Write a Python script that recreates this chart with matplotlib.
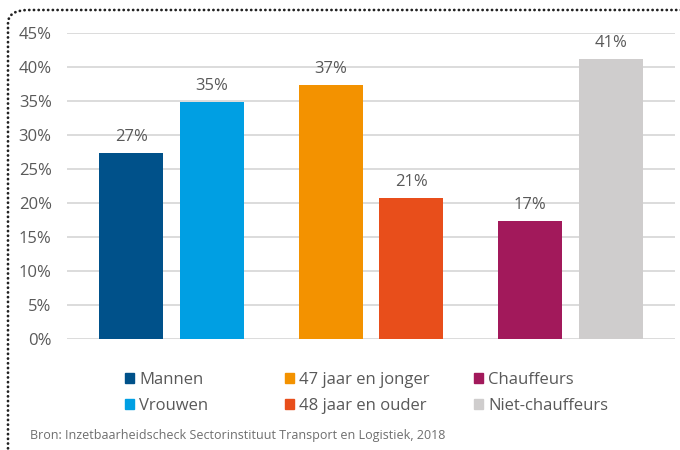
import matplotlib
matplotlib.use("Agg")
import matplotlib.pyplot as plt
from matplotlib.patches import FancyBboxPatch, Patch
import numpy as np

plt.rcParams['font.family'] = ['Open Sans', 'DejaVu Sans']

groups = [0, 1, 2]
left_labels = ['Mannen', '47 jaar en jonger', 'Chauffeurs']
right_labels = ['Vrouwen', '48 jaar en ouder', 'Niet-chauffeurs']
left_values = [27.3, 37.3, 17.3]
right_values = [34.8, 20.7, 41.2]
left_colors = ['#00518A', '#F39200', '#A2195B']
right_colors = ['#009FE3', '#E84E1B', '#CFCDCD']
yticks = [0, 5, 10, 15, 20, 25, 30, 35, 40, 45]
source = 'Bron: Inzetbaarheidscheck Sectorinstituut Transport en Logistiek, 2018'

text_col = '#595959'

fig = plt.figure(figsize=(6.8, 4.5), dpi=100)
ax = fig.add_axes([67 / 680, 1 - 339 / 450, (675 - 67) / 680, (339 - 33) / 450])

x = np.array(groups)
w = 0.321
off = 0.202
b1 = ax.bar(x - off, left_values, w, color=left_colors, zorder=3)
b2 = ax.bar(x + off, right_values, w, color=right_colors, zorder=3)

for bars, vals in ((b1, left_values), (b2, right_values)):
    for bar, v in zip(bars, vals):
        ax.text(bar.get_x() + bar.get_width() / 2, v + 1.2, f"{round(v)}%",
                ha='center', va='bottom', fontsize=12, color=text_col)

ax.set_xlim(-0.525, 2.524)
ax.set_ylim(0, 45)
ax.set_yticks(yticks)
ax.set_yticklabels([f"{t}%" for t in yticks], fontsize=12, color=text_col)
ax.set_xticks([])
ax.tick_params(axis='y', length=0, pad=11)
ax.grid(axis='y', color='#D9D9D9', linewidth=1.3, zorder=0)
for s in ax.spines.values():
    s.set_visible(False)

# legend: one small legend per pair, placed as three columns
legend_x = [125, 285, 474]
for i in range(3):
    leg = fig.legend([Patch(color=left_colors[i]), Patch(color=right_colors[i])],
                     [left_labels[i], right_labels[i]],
                     frameon=False, loc='upper left', borderpad=0, borderaxespad=0,
                     bbox_to_anchor=(legend_x[i] / 680, 1 - 372 / 450), fontsize=12,
                     labelcolor=text_col, handlelength=0.55, handleheight=0.55,
                     handletextpad=0.3, labelspacing=0.6)

fig.text(30 / 680, 1 - 435 / 450, source, fontsize=9, color='#6E6E6E',
         va='center', ha='left')

# dotted frame, open at right and bottom
frame = FancyBboxPatch((8 / 680, -0.2), 1.2, 1 - 10 / 450 + 0.2,
                       boxstyle='round,pad=0,rounding_size=0.03',
                       transform=fig.transFigure, fill=False,
                       edgecolor='#222222', linewidth=2.0,
                       linestyle=(0, (0.05, 1.65)), capstyle='round', clip_on=False)
fig.patches.append(frame)

fig.savefig('out.png', dpi=100)
